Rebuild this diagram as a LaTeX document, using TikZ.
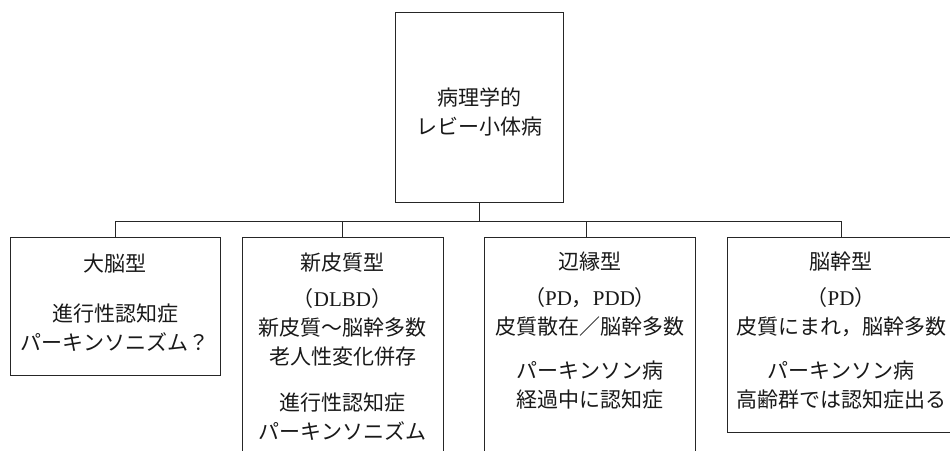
\documentclass[tikz,border=0pt]{standalone}
\usepackage{fontspec}
\setmainfont{Liberation Serif}
\newfontfamily\cjk{Noto Sans CJK JP}
\newfontfamily\lat{Liberation Serif}
\begin{document}
\begin{tikzpicture}[x=1pt,y=-1pt,
  box/.style={draw=black!85, line width=0.8pt, inner sep=0pt},
  txt/.style={align=center, inner sep=0pt, font=\cjk\fontsize{21}{29}\selectfont, text=black!90},
  conn/.style={draw=black!85, line width=0.8pt}]
\useasboundingbox (0,0) rectangle (950,450);
\clip (0,0) rectangle (950,450);
\fill[white] (0,0) rectangle (950,450);
% boxes
\node[box, minimum width=168pt, minimum height=190pt] (top) at (479,107) {};
\node[box, minimum width=210pt, minimum height=138pt] (b1) at (115,306) {};
\node[box, minimum width=201pt, minimum height=233pt] (b2) at (342.5,353.5) {};
\node[box, minimum width=211pt, minimum height=233pt] (b3) at (589.5,353.5) {};
\node[box, minimum width=228pt, minimum height=195pt] (b4) at (841,334.5) {};
% texts
\node[txt] (t0) at (479,112) {病理学的\\レビー小体病};
\node[txt] (t1) at (115,303) {大脳型\\[21pt]進行性認知症\\パーキンソニズム？};
\node[txt] (t2) at (342.5,347) {新皮質型\\[7pt]（{\lat DLBD}）\\新皮質〜脳幹多数\\老人性変化併存\\[17pt]進行性認知症\\パーキンソニズム};
\node[txt] (t3) at (590,331) {辺縁型\\[7pt]（{\lat PD}，{\lat PDD}）\\皮質散在／脳幹多数\\[15pt]パーキンソン病\\経過中に認知症};
\node[txt] (t4) at (841,331) {脳幹型\\[7pt]（{\lat PD}）\\皮質にまれ，脳幹多数\\[15pt]パーキンソン病\\高齢群では認知症出る};
% connectors
\coordinate (bus) at (480,221);
\draw[conn] (top.south) -- (top.south |- bus);
\draw[conn] (b1.north) -- (b1.north |- bus) -- (b4.north |- bus) -- (b4.north);
\draw[conn] (b2.north) -- (b2.north |- bus);
\draw[conn] ([xshift=-3.5pt]b3.north) -- ([xshift=-3.5pt]b3.north |- bus);
\end{tikzpicture}
\end{document}
